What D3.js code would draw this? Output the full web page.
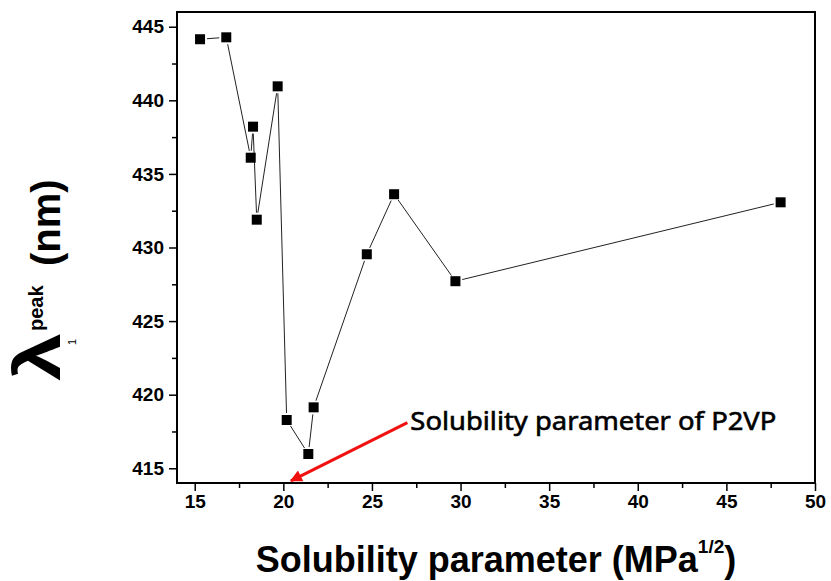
<!DOCTYPE html>
<html>
<head>
<meta charset="utf-8">
<script src="https://cdn.jsdelivr.net/npm/d3@7"></script>
<style>
  body { margin: 0; background: #fff; }
  svg { display: block; }
  .tick text { font-family: "Liberation Sans", Arial, sans-serif; font-weight: bold; font-size: 19px; fill: #000; }
</style>
</head>
<body>
<div id="chart"></div>
<script>
// solubility parameter (MPa^1/2) vs lambda peak (nm)
var solubility = [15.3, 16.78, 18.16, 18.29, 18.5, 19.68, 20.19, 21.41, 21.71, 24.71, 26.25, 29.71, 48.06];
var lambdaPeak = [444.15, 444.28, 436.1, 438.21, 431.89, 440.95, 418.28, 415.97, 419.14, 429.54, 433.62, 427.71, 433.07];

var xTicks = [15, 20, 25, 30, 35, 40, 45, 50];
var yTicks = [415, 420, 425, 430, 435, 440, 445];

// annotation: text anchor and arrow tip, in data units
var noteText = "Solubility parameter of P2VP";
var noteFrom = [27.0, 418.1];
var noteTip  = [20.43, 414.15];

var data = solubility.map(function (s, i) { return { x: s, y: lambdaPeak[i] }; });

var width = 831, height = 581;
var margin = {top: 12, right: 16, bottom: 98, left: 177};
var plotW = width - margin.left - margin.right,
    plotH = height - margin.top - margin.bottom;

var svg = d3.select("#chart").append("svg")
    .attr("width", width)
    .attr("height", height);

var xscale = d3.scaleLinear().domain([14, 50]).range([0, plotW]);
var yscale = d3.scaleLinear().domain([414, 446]).range([plotH, 0]);

var g = svg.append("g")
    .attr("transform", "translate(" + margin.left + "," + margin.top + ")");

// minor ticks (every 2.5)
var xMinor = xTicks.slice(0, -1).map(function (t) { return t + 2.5; });
var yMinor = yTicks.slice(0, -1).map(function (t) { return t + 2.5; });

g.append("g")
    .attr("transform", "translate(0," + plotH + ")")
    .call(d3.axisBottom(xscale).tickValues(xMinor).tickSize(5).tickFormat(""))
    .call(function (a) { a.select(".domain").remove(); a.selectAll("line").attr("stroke-width", 1.5); });
g.append("g")
    .call(d3.axisLeft(yscale).tickValues(yMinor).tickSize(5).tickFormat(""))
    .call(function (a) { a.select(".domain").remove(); a.selectAll("line").attr("stroke-width", 1.5); });

// major ticks
g.append("g")
    .attr("transform", "translate(0," + plotH + ")")
    .call(d3.axisBottom(xscale).tickValues(xTicks).tickSize(8).tickPadding(4))
    .call(function (a) { a.select(".domain").remove(); a.selectAll("line").attr("stroke-width", 1.5); });
g.append("g")
    .call(d3.axisLeft(yscale).tickValues(yTicks).tickSize(8).tickPadding(5))
    .call(function (a) { a.select(".domain").remove(); a.selectAll("line").attr("stroke-width", 1.5); });

// frame
g.append("rect")
    .attr("width", plotW)
    .attr("height", plotH)
    .attr("fill", "none")
    .attr("stroke", "#000")
    .attr("stroke-width", 2);

// connecting segments, trimmed short of the markers like in Origin
var gap = 7;
var segs = d3.pairs(data);
g.selectAll("line.seg")
    .data(segs)
  .enter().append("line")
    .attr("class", "seg")
    .attr("stroke", "#222")
    .attr("stroke-width", 1)
    .each(function (p) {
      var x1 = xscale(p[0].x), y1 = yscale(p[0].y),
          x2 = xscale(p[1].x), y2 = yscale(p[1].y);
      var len = Math.sqrt((x2 - x1) * (x2 - x1) + (y2 - y1) * (y2 - y1));
      var k = len > 2 * gap ? gap / len : 0.45;
      d3.select(this)
        .attr("x1", x1 + (x2 - x1) * k).attr("y1", y1 + (y2 - y1) * k)
        .attr("x2", x2 - (x2 - x1) * k).attr("y2", y2 - (y2 - y1) * k);
    });

// square markers
var ms = 10;
g.selectAll("rect.pt")
    .data(data)
  .enter().append("rect")
    .attr("class", "pt")
    .attr("x", function (d) { return xscale(d.x) - ms / 2; })
    .attr("y", function (d) { return yscale(d.y) - ms / 2; })
    .attr("width", ms)
    .attr("height", ms)
    .attr("fill", "#000");

// red arrow + note
svg.append("defs").append("marker")
    .attr("id", "arrow")
    .attr("viewBox", "0 0 10 10")
    .attr("refX", 9).attr("refY", 5)
    .attr("markerWidth", 4.5).attr("markerHeight", 4)
    .attr("orient", "auto")
  .append("path")
    .attr("d", "M0,0 L10,5 L0,10 z")
    .attr("fill", "#f01010");

g.append("line")
    .attr("x1", xscale(noteFrom[0])).attr("y1", yscale(noteFrom[1]))
    .attr("x2", xscale(noteTip[0])).attr("y2", yscale(noteTip[1]))
    .attr("stroke", "#f01010")
    .attr("stroke-width", 3)
    .attr("marker-end", "url(#arrow)");

// regular weight with a hair of stroke -> medium look
g.append("text")
    .attr("x", xscale(noteFrom[0]) + 3)
    .attr("y", yscale(noteFrom[1]) + 7)
    .attr("font-family", "'Noto Sans', 'Open Sans', sans-serif")
    .attr("font-size", 26)
    .attr("textLength", 366)
    .attr("lengthAdjust", "spacingAndGlyphs")
    .attr("fill", "#000")
    .attr("stroke", "#000")
    .attr("stroke-width", 0.6)
    .text(noteText);

// x title
var xt = svg.append("text")
    .attr("x", margin.left + plotW / 2)
    .attr("y", 572)
    .attr("text-anchor", "middle")
    .attr("font-family", "'Liberation Sans', Arial, sans-serif")
    .attr("font-weight", "bold")
    .attr("font-size", 36)
    .text("Solubility parameter (MPa");
xt.append("tspan").attr("font-size", 19).attr("dy", -19).text("1/2");
xt.append("tspan").attr("dy", 19).text(")");

// y title, built from pieces in a rotated group
var yt = svg.append("g")
    .attr("transform", "translate(60,0) rotate(-90)")
    .attr("font-family", "'Liberation Sans', Arial, sans-serif")
    .attr("font-weight", "bold");
yt.append("text").attr("x", -381).attr("y", 0)
    .attr("font-size", 64)
    .attr("textLength", 48).attr("lengthAdjust", "spacingAndGlyphs")
    .text("λ");
yt.append("text").attr("x", -345).attr("y", 16)
    .attr("font-size", 11).attr("font-weight", "normal")
    .text("1");
yt.append("text").attr("x", -331).attr("y", -17)
    .attr("font-size", 20)
    .text("peak");
yt.append("text").attr("x", -266).attr("y", 0)
    .attr("font-size", 40)
    .text("(nm)");
</script>
</body>
</html>
